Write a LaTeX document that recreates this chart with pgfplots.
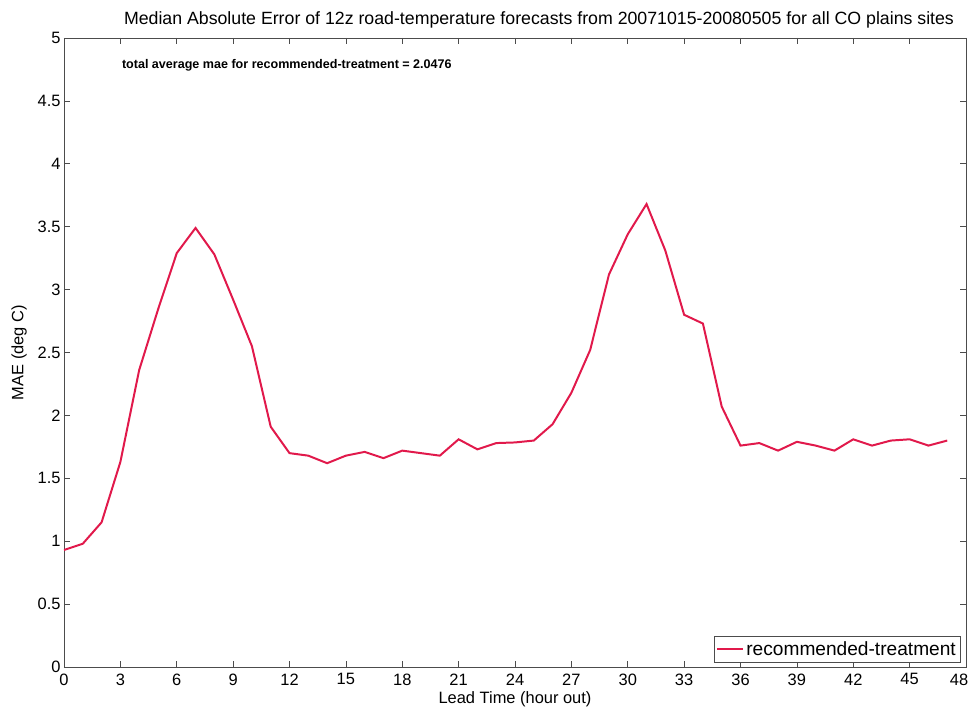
\documentclass[border=0pt]{standalone}
\usepackage{pgfplots}
\pgfplotsset{compat=1.18}
\usepackage{fontspec}
\setmainfont{Liberation Sans}
\definecolor{linered}{RGB}{225,25,75}
\begin{document}
\begin{tikzpicture}
\begin{axis}[
  name=main,
  scale only axis,
  width=902bp, height=629bp,
  xmin=0, xmax=48, ymin=0, ymax=5,
  xtick={0,3,...,45},
  extra x ticks={48},
  extra x tick style={xticklabel style={xshift=-7bp}},
  ytick={0,0.5,...,5},
  tick align=inside,
  major tick length=6bp,
  tick style={black!70, line width=0.6pt},
  axis line style={black!70, line width=0.8pt},
  /pgf/number format/assume math mode=true,
  /pgf/number format/fixed,
  ticklabel style={font=\fontsize{16.5}{18}\selectfont},
  xticklabel style={yshift=-3bp},
  title={Median Absolute Error of 12z road-temperature forecasts from 20071015-20080505 for all CO plains sites},
  title style={font=\fontsize{17.8}{20}\selectfont, yshift=0bp, xshift=24bp},
  xlabel={Lead Time (hour out)},
  ylabel={MAE (deg C)},
  label style={font=\fontsize{16.5}{18}\selectfont},
  xlabel style={yshift=0bp},
  ylabel style={yshift=4bp},
  legend style={at={(1,0)}, anchor=south east, xshift=-6bp, yshift=5bp,
    font=\fontsize{19.2}{21}\selectfont, draw=black!70, inner xsep=2bp, inner ysep=3bp},
  legend cell align=left,
  legend image post style={linered, line width=2pt},
  legend image code/.code={\draw[#1] (0bp,0bp) -- (26bp,0bp);},
]
\addplot[color=linered, line width=2pt] coordinates {
(0,0.93) (1,0.98) (2,1.15) (3,1.63) (4,2.36) (5,2.84) (6,3.29) (7,3.49)
(8,3.28) (9,2.92) (10,2.55) (11,1.91) (12,1.70) (13,1.68) (14,1.62) (15,1.68)
(16,1.71) (17,1.66) (18,1.72) (19,1.70) (20,1.68) (21,1.81) (22,1.73) (23,1.78)
(24,1.785) (25,1.80) (26,1.93) (27,2.18) (28,2.52) (29,3.12) (30,3.44) (31,3.68)
(32,3.31) (33,2.80) (34,2.73) (35,2.07) (36,1.76) (37,1.78) (38,1.72) (39,1.79)
(40,1.76) (41,1.72) (42,1.81) (43,1.76) (44,1.80) (45,1.81) (46,1.76) (47,1.80)
};
\addlegendentry{recommended-treatment}
\node[anchor=west, font=\bfseries\fontsize{12.6}{14}\selectfont] at (axis cs:2.9,4.78) {total average mae for recommended-treatment = 2.0476};
\end{axis}
\pgfresetboundingbox
\path[use as bounding box] ([shift={(-64bp,-39bp)}]main.south west) rectangle ([shift={(5bp,38bp)}]main.north east);
\end{tikzpicture}
\end{document}
